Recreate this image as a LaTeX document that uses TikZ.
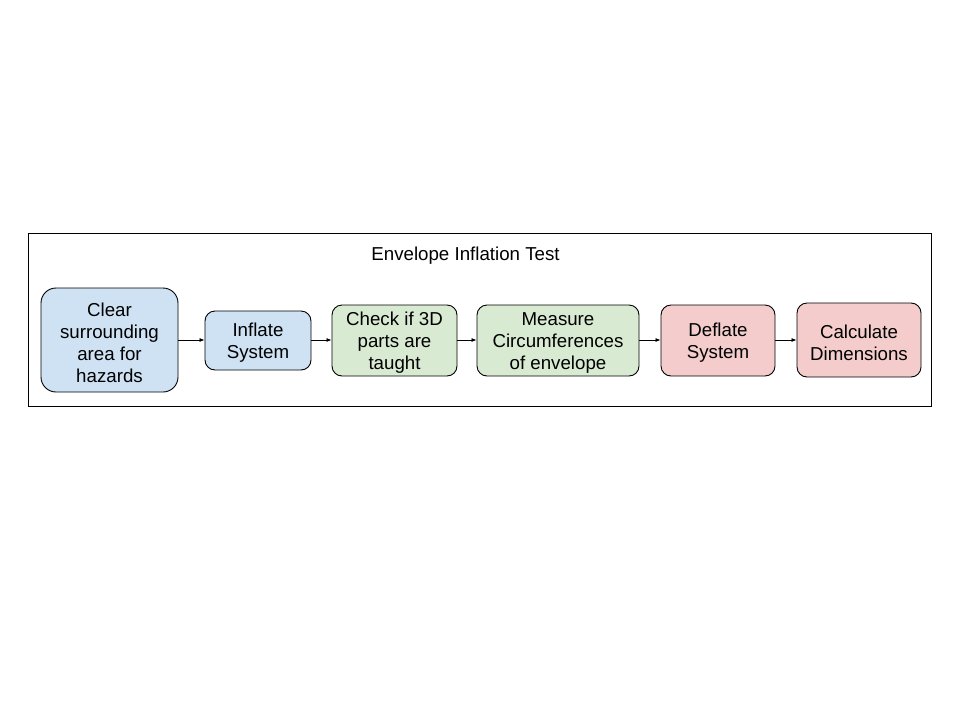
\documentclass[tikz,border=0pt]{standalone}
\usepackage{fontspec}
\setmainfont{Liberation Sans}
\usetikzlibrary{arrows.meta}
\definecolor{blueF}{HTML}{CFE2F3}
\definecolor{greenF}{HTML}{D9EAD3}
\definecolor{redF}{HTML}{F4CCCC}
\begin{document}
\begin{tikzpicture}[x=1pt,y=-1pt,
  stepbox/.style={draw=black,line width=0.9pt,rounded corners=10pt,inner sep=0pt},
  steptext/.style={inner sep=0pt,align=center,font=\fontsize{18.7}{22}\selectfont},
  conn/.style={line width=0.8pt,-{Latex[length=5pt,width=4pt]}}]
\useasboundingbox (0,0) rectangle (960,720);
\node[draw=black,line width=0.9pt,minimum width=903pt,minimum height=173pt,inner sep=0pt] (frame) at (479.5,319.5) {};
\node[font=\fontsize{18.7}{22}\selectfont] (title) at (465.5,256) {Envelope Inflation Test};
\node[stepbox,fill=blueF,rounded corners=15pt,minimum width=137pt,minimum height=104pt] (b1) at (109.5,340) {};
\node[stepbox,fill=blueF,minimum width=106pt,minimum height=59pt] (b2) at (258,340.5) {};
\node[stepbox,fill=greenF,minimum width=125pt,minimum height=71pt] (b3) at (394.5,340.5) {};
\node[stepbox,fill=greenF,minimum width=162pt,minimum height=71pt] (b4) at (558,340.5) {};
\node[stepbox,fill=redF,minimum width=114pt,minimum height=71pt] (b5) at (718,340.5) {};
\node[stepbox,fill=redF,minimum width=124pt,minimum height=74pt] (b6) at (859,340) {};
\node[steptext] (t1) at ([yshift=-2.5pt]b1.center) {Clear\\surrounding\\area for\\hazards};
\node[steptext] (t2) at ([yshift=-2.5pt]b2.center) {Inflate\\System};
\node[steptext] (t3) at ([yshift=-2.5pt]b3.center) {Check if 3D\\parts are\\taught};
\node[steptext] (t4) at ([yshift=-2.5pt]b4.center) {Measure\\Circumferences\\of envelope};
\node[steptext] (t5) at ([yshift=-2.5pt]b5.center) {Deflate\\System};
\node[steptext] (t6) at ([yshift=-2.5pt]b6.center) {Calculate\\Dimensions};
\draw[conn] (b1.east |- 0,340) -- (b2.west |- 0,340);
\draw[conn] (b2.east |- 0,340) -- (b3.west |- 0,340);
\draw[conn] (b3.east |- 0,340) -- (b4.west |- 0,340);
\draw[conn] (b4.east |- 0,340) -- (b5.west |- 0,340);
\draw[conn] (b5.east |- 0,340) -- (b6.west |- 0,340);
\end{tikzpicture}
\end{document}
